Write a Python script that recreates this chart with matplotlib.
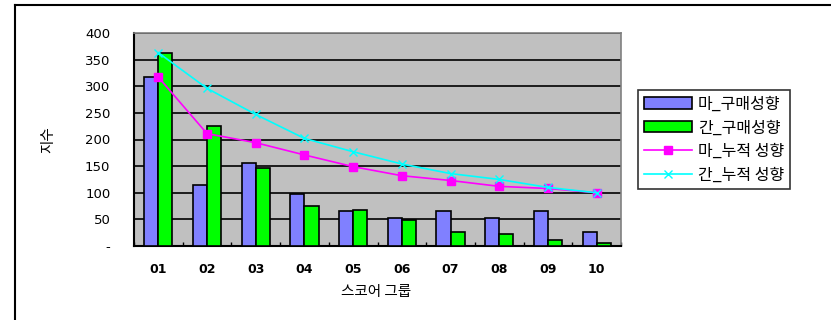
import numpy as np
import matplotlib
matplotlib.use('Agg')
import matplotlib.pyplot as plt
from matplotlib.lines import Line2D

plt.rcParams['font.family'] = ['Noto Sans CJK KR', 'DejaVu Sans']

groups = ['01', '02', '03', '04', '05', '06', '07', '08', '09', '10']
ma_buy = [318, 114, 155, 98, 65, 53, 65, 53, 65, 27]
gan_buy = [363, 226, 147, 76, 68, 48, 27, 23, 12, 5]
ma_cum = [317, 211, 194, 171, 149, 132, 123, 112, 108, 100]
gan_cum = [363, 296, 247, 202, 177, 154, 136, 125, 110, 100]
yticks = [0, 50, 100, 150, 200, 250, 300, 350, 400]
ytick_labels = ['-', '50', '100', '150', '200', '250', '300', '350', '400']

fig = plt.figure(figsize=(8.31, 3.2), dpi=100)
ax = fig.add_axes([134 / 831, 1 - 246 / 320, 487 / 831, 213 / 320])
ax.set_facecolor('#c0c0c0')

x = np.arange(len(groups))
w = 0.29
b1 = ax.bar(x - w / 2, ma_buy, w, color='#8080ff', edgecolor='black', linewidth=1.2,
            label='마_구매성향', zorder=3)
b2 = ax.bar(x + w / 2, gan_buy, w, color='#00ff00', edgecolor='black', linewidth=1.2,
            label='간_구매성향', zorder=3)
l1, = ax.plot(x, ma_cum, color='#ff00ff', marker='s', markersize=6, linewidth=1.2,
              label='마_누적 성향', zorder=4)
l2, = ax.plot(x, gan_cum, color='#00ffff', marker='x', markersize=6, linewidth=1.2,
              label='간_누적 성향', zorder=4)

ax.set_xlim(-0.5, len(groups) - 0.5)
ax.set_ylim(0, 400)
ax.set_yticks(yticks)
ax.set_yticklabels(ytick_labels, fontsize=9.5, family='DejaVu Sans')
ax.yaxis.grid(True, color='black', linewidth=1.2, zorder=1)
ax.set_axisbelow(True)
ax.tick_params(axis='y', length=0, pad=17)

ax.set_xticks(x)
ax.set_xticklabels(groups, fontsize=9, fontweight='bold', family='DejaVu Sans')
ax.set_xticks(np.arange(len(groups) + 1) - 0.5, minor=True)
ax.tick_params(axis='x', which='major', length=0, pad=12)
ax.tick_params(axis='x', which='minor', direction='in', length=3, width=1)

for s in ['left', 'bottom']:
    ax.spines[s].set_linewidth(1.5)
    ax.spines[s].set_color('black')
for s in ['top', 'right']:
    ax.spines[s].set_linewidth(1.2)
    ax.spines[s].set_color('#808080')

fig.text(376 / 831, 1 - 292 / 320, '스코어 그룹', ha='center', va='center', fontsize=10.5)
fig.text(48 / 831, 1 - 140 / 320, '지수', ha='center', va='center', rotation=90, fontsize=10.5)

leg = ax.legend(handles=[b1, b2, l1, l2], loc='upper left',
                bbox_to_anchor=(638 / 831, 1 - 90 / 320),
                bbox_transform=fig.transFigure, fontsize=11.5, frameon=True,
                fancybox=False, edgecolor='black', handlelength=3.0,
                labelspacing=0.42, borderpad=0.35, handletextpad=0.4,
                borderaxespad=0)
leg.get_frame().set_linewidth(1.2)

# outer chart border (top and left only)
fig.add_artist(Line2D([15 / 831, 1], [1 - 5 / 320, 1 - 5 / 320], color='black',
                      linewidth=1.5, transform=fig.transFigure))
fig.add_artist(Line2D([15 / 831, 15 / 831], [1 - 5 / 320, 0], color='black',
                      linewidth=1.5, transform=fig.transFigure))

fig.savefig('out.png', dpi=100)
